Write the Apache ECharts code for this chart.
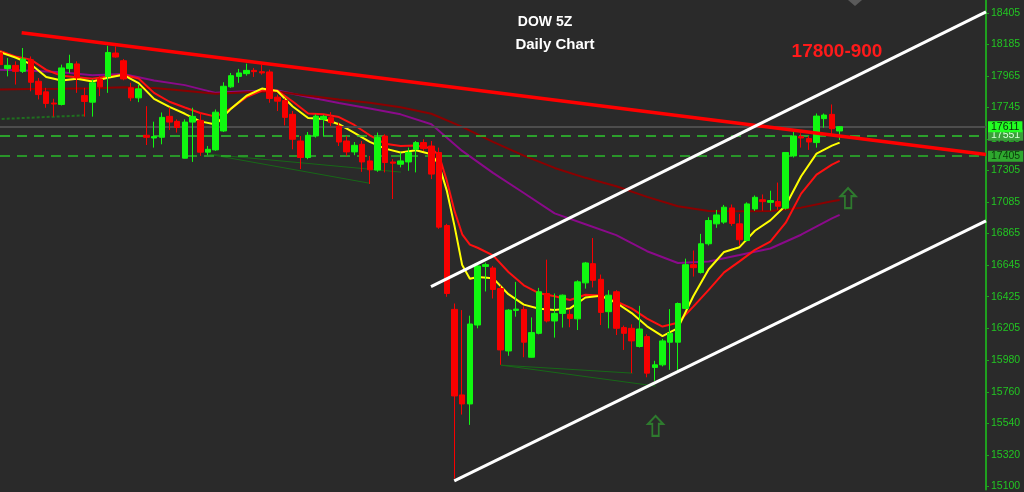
<!DOCTYPE html>
<html><head><meta charset="utf-8">
<script src="https://cdn.jsdelivr.net/npm/echarts@6/dist/echarts.min.js"></script>
<style>html,body{margin:0;padding:0;background:#2a2a2a}#c{width:1024px;height:492px}</style>
</head><body><div id="c"></div>
<script>
// ---- DATA (DOW 5Z daily) ----
// candles: [open, close, low, high], one per trading day
const candles = [
[18127,18044,18023,18148],
[18016,18039,17962,18090],[18039,17997,17905,18067],[17997,18083,17986,18160],[18078,17921,17858,18101],
[17928,17835,17801,17951],[17854,17773,17743,17882],[17776,17769,17681,17806],[17766,18021,17759,18044],
[18016,18051,17986,18113],[18049,17951,17847,18067],[17828,17787,17681,17882],[17782,17917,17681,17940],
[17944,17889,17824,17962],[17962,18129,17847,18176],[18125,18097,18092,18171],[18071,17944,17935,18083],
[17882,17812,17789,17917],[17812,17875,17782,17905],[17551,17537,17483,17754],[17532,17542,17465,17646],
[17537,17676,17488,17710],[17683,17643,17588,17745],[17648,17606,17570,17662],[17391,17643,17389,17662],
[17643,17683,17365,17743],[17655,17433,17407,17710],[17433,17453,17412,17476],[17449,17712,17442,17731],
[17581,17893,17574,17921],[17889,17967,17882,17986],[17962,17986,17917,18014],[17981,18004,17967,18051],
[18004,17995,17958,18021],[17995,17986,17974,18044],[17993,17808,17778,18009],[17817,17789,17720,17835],
[17794,17676,17620,17808],[17697,17523,17453,17720],[17511,17396,17315,17546],[17396,17551,17384,17574],
[17546,17685,17535,17697],[17662,17683,17546,17693],[17674,17639,17615,17712],[17615,17504,17476,17639],
[17511,17435,17407,17546],[17435,17481,17412,17504],[17488,17365,17296,17511],[17372,17310,17211,17407],
[17308,17535,17296,17570],[17546,17361,17292,17558],[17365,17356,17106,17384],[17349,17372,17327,17431],
[17365,17431,17303,17465],[17453,17500,17292,17511],[17500,17458,17442,17523],[17476,17280,17245,17511],
[17431,16910,16898,17465],[16921,16447,16424,16933],[16336,15732,15155,16377],[15739,15676,15602,16331],
[15676,16234,15530,16292],[16227,16639,16204,16655],[16636,16648,16461,16662],[16625,16475,16412,16639],
[16481,16053,15949,16502],[16046,16331,16012,16338],[16329,16338,16285,16528],[16336,16107,16002,16357],
[16002,16174,16000,16280],[16169,16459,16162,16486],[16447,16255,16245,16683],[16255,16308,16139,16447],
[16308,16435,16209,16440],[16301,16273,16211,16336],[16270,16528,16192,16539],[16521,16660,16481,16667],
[16655,16539,16489,16834],[16546,16315,16227,16579],[16320,16435,16204,16470],[16459,16204,16157,16470],
[16209,16169,16053,16223],[16204,16116,15891,16232],[16077,16199,16070,16361],[16146,15891,15862,16162],
[15931,15949,15838,15977],[15949,16116,15938,16130],[16107,16169,15914,16338],[16107,16377,15907,16384],
[16343,16648,16338,16690],[16648,16627,16565,16747],[16593,16794,16586,16863],[16794,16956,16782,16979],
[16933,16995,16905,17030],[16945,17049,16933,17065],[17044,16936,16919,17068],[16933,16822,16784,17002],
[16817,17072,16810,17083],[17037,17118,17023,17131],[17101,17088,17025,17138],[17083,17095,17025,17164],
[17088,17056,17030,17221],[17042,17431,17032,17433],[17407,17546,17396,17574],[17542,17532,17465,17565],
[17528,17504,17449,17546],[17500,17685,17465,17703],[17667,17692,17604,17703],[17697,17597,17558,17766],
[17581,17611,17518,17615]
];
// moving averages: [day index, value]
const maFast = [[0,18131],[2,18094],[4,18047],[6,17958],[8,17933],[10,17946],[12,17926],[14,17952],[16,17973],[18,17915],[20,17805],[22,17749],[24,17701],[26,17648],[28,17626],[30,17737],[32,17827],[34,17877],[36,17860],[38,17752],[40,17672],[42,17665],[44,17628],[46,17568],[48,17505],[50,17458],[52,17431],[54,17447],[56,17419],[57,17344],[58,17165],[59,16919],[60,16645],[61,16550],[62,16562],[64,16554],[66,16442],[68,16369],[70,16341],[72,16331],[74,16343],[76,16419],[78,16431],[80,16382],[82,16310],[84,16218],[86,16149],[88,16206],[90,16428],[92,16616],[94,16737],[96,16770],[98,16885],[100,16957],[102,17061],[104,17265],[106,17423],[108,17479],[109,17500]];
const maMid = [[0,18140],[2,18101],[4,18079],[6,18007],[8,17966],[10,17956],[12,17945],[14,17962],[16,17974],[18,17947],[20,17847],[22,17785],[24,17745],[26,17706],[28,17681],[30,17738],[32,17817],[34,17863],[36,17863],[38,17787],[40,17703],[42,17697],[44,17678],[46,17623],[48,17551],[50,17492],[52,17476],[54,17480],[56,17460],[57,17409],[58,17235],[59,17023],[60,16860],[61,16788],[62,16766],[64,16713],[66,16597],[68,16504],[70,16448],[72,16427],[74,16401],[76,16438],[78,16433],[80,16391],[82,16343],[84,16272],[86,16216],[88,16243],[90,16355],[92,16472],[94,16594],[96,16671],[98,16751],[100,16809],[102,16941],[104,17144],[106,17277],[108,17346],[109,17372]];
const maSlow = [[0,17870],[4,17874],[8,17875],[12,17880],[16,17887],[20,17881],[24,17861],[28,17840],[32,17851],[36,17856],[40,17826],[44,17800],[48,17778],[52,17747],[56,17701],[60,17610],[64,17505],[68,17409],[72,17323],[76,17254],[80,17195],[84,17121],[88,17056],[92,17023],[96,17020],[100,17023],[104,17046],[108,17091],[109,17100]];
const maLong = [[0,18009],[4,18001],[8,17990],[12,17970],[16,17979],[20,17933],[24,17901],[28,17847],[32,17859],[36,17864],[40,17818],[44,17776],[48,17738],[52,17697],[56,17628],[60,17442],[64,17289],[68,17148],[72,17006],[76,16930],[80,16854],[84,16742],[88,16660],[92,16670],[96,16715],[100,16761],[104,16857],[108,16971],[109,16995]];
// drawn trend lines: [day index, value]
const resistanceLine = [[2.81,18266],[128,17417]];
const channelUpper = [[55.95,16495],[128,18412]];
const channelLower = [[58.97,15139],[128,16954]];
const greenLineA = [[0.22,17665],[10.98,17690]];
const greenLineB = [[27.05,17419],[47.91,17217]];
const greenLineC = [[27.05,17419],[52.06,17294]];
const greenLineD = [[65.02,15947],[82.13,15891]];
const greenLineE = [[65.02,15947],[85.11,15801]];
const arrows = [[110.1,17113],[85.1,15523]];
// price levels
const lastPrice = 17611, level1 = 17551, level2 = 17405;
// axis tick labels
const yTicks = [15100,15320,15540,15760,15980,16205,16425,16645,16865,17085,17305,17525,17745,17965,18185,18405];
const titleText = 'DOW 5Z', subText = 'Daily Chart', targetText = '17800-900';

const nCats = 129;
const cats = Array.from({length:nCats},(_,i)=>String(i));

const chart = echarts.init(document.getElementById('c'), null, {renderer:'canvas'});
function seg(data,color,width,type,z){
  return {type:'line',xAxisIndex:1,yAxisIndex:0,data:data,showSymbol:false,silent:true,animation:false,
    lineStyle:{color:color,width:width,type:type||'solid'},z:z||3};
}
function mlLine(v,color,type,width,bg,fg){
  return {yAxis:v,lineStyle:{color:color,type:type,width:width},
    label:{show:true,position:'end',distance:2,formatter:String(v),backgroundColor:bg,color:fg,
      fontSize:10.5,fontFamily:'Liberation Sans',padding:[1,3,0,3],lineHeight:10}};
}
chart.setOption({
  backgroundColor:'#2a2a2a',
  animation:false,
  grid:{left:-1.72,top:0,width:987.72,height:492,containLabel:false},
  xAxis:[
    {type:'category',data:cats,boundaryGap:false,show:false},
    {type:'value',min:0,max:128,show:false}
  ],
  yAxis:[{type:'value',position:'right',min:15079,max:18495,scale:true,
    axisLine:{show:true,onZero:false,lineStyle:{color:'#1fa01f',width:2}},
    axisTick:{show:true,length:3,lineStyle:{color:'#1fa01f'},customValues:yTicks},
    axisLabel:{color:'#22c522',fontSize:10.5,fontFamily:'Liberation Sans',margin:5,customValues:yTicks,
      formatter:v=>String(v)},
    splitLine:{show:false}}],
  series:[
    seg(maLong,'#8a0a8a',2,'solid',2),
    seg(maSlow,'#8b0000',2,'solid',2),
    seg(maMid,'#ff1010',2,'solid',2),
    seg(maFast,'#ffff00',2,'solid',2),
    seg(greenLineA,'#1f6f1f',2,[3,2],2),
    seg(greenLineB,'#176817',1,'solid',2),
    seg(greenLineC,'#176817',1,'solid',2),
    seg(greenLineD,'#176817',1,'solid',2),
    seg(greenLineE,'#176817',1,'solid',2),
    {type:'candlestick',data:candles,barWidth:6,z:4,silent:true,
      itemStyle:{color:'#10f810',color0:'#f80000',borderColor:'#10f810',borderColor0:'#f80000',borderWidth:1},
      markLine:{symbol:'none',silent:true,animation:false,z:3,
        data:[
          mlLine(level2,'#2ab82a',[10,7],1.5,'#2ea82e','#0c3a0c'),
          mlLine(level1,'#2ec82e',[10,7],1.5,'#3aa03a','#d8ffd8'),
          mlLine(lastPrice,'#4d4d4d','solid',2,'#22ff22','#0a2a0a')
        ]}},
    seg(resistanceLine,'#ff0000',3.5,'solid',5),
    seg(channelUpper,'#ffffff',3,'solid',5),
    seg(channelLower,'#ffffff',3,'solid',5),
    {type:'scatter',xAxisIndex:1,yAxisIndex:0,data:arrows,silent:true,z:5,
      symbol:'path://M7,0 L14,8 L10,8 L10,20 L4,20 L4,8 L0,8 Z',symbolSize:[15,20],
      itemStyle:{color:'rgba(0,0,0,0)',borderColor:'#2f8f2f',borderWidth:2}}
  ],
  graphic:[
    {type:'text',x:545,y:22,style:{text:titleText,fill:'#ffffff',font:'bold 14px "Liberation Sans"',align:'center',verticalAlign:'middle'}},
    {type:'text',x:555,y:45,style:{text:subText,fill:'#ffffff',font:'bold 15px "Liberation Sans"',align:'center',verticalAlign:'middle'}},
    {type:'text',x:837,y:52,style:{text:targetText,fill:'#ff1a1a',font:'bold 19px "Liberation Sans"',align:'center',verticalAlign:'middle'}},
    {type:'polygon',shape:{points:[[848,0],[862,0],[855,6]]},style:{fill:'#5a5a5a'}}
  ]
});
</script></body></html>
